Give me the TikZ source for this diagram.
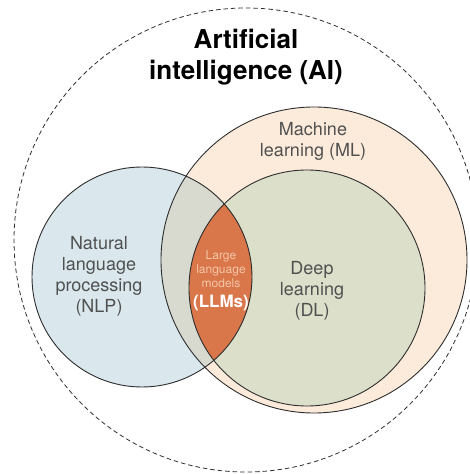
\documentclass[tikz,border=0pt]{standalone}
\usepackage{fontspec}
\setmainfont{TeX Gyre Heros}
\usepackage{xcolor}
\usetikzlibrary{positioning}

\definecolor{nlpblue}{HTML}{DAE8EE}
\definecolor{mlpeach}{HTML}{FCEBDA}
\definecolor{dlgreen}{HTML}{DCDFCA}
\definecolor{mixgrey}{HTML}{D8D9CF}
\definecolor{llmorange}{HTML}{D9764A}
\definecolor{llmtext}{HTML}{F5C6A8}
\definecolor{labelgrey}{HTML}{505050}
\definecolor{rim}{HTML}{2E2E2E}

\begin{document}
\begin{tikzpicture}[x=1pt,y=1pt,
    rimline/.style={draw=rim,line width=0.9pt},
    ailine/.style={draw=rim,line width=0.8pt,dash pattern=on 4.5pt off 3pt},
    fieldlabel/.style={align=center,text=labelgrey,font=\fontsize{18}{21}\selectfont,inner sep=0pt},
    smalllabel/.style={align=center,text=llmtext,font=\fontsize{12}{14}\selectfont,inner sep=0pt}]
  \useasboundingbox (0,0) rectangle (469,474);

  \coordinate (ai) at (246,234);
  \coordinate (ml) at (314,214);
  \coordinate (dl) at (307,186);
  \coordinate (nlp) at (142,197);

  \draw[ailine] (ai) circle[radius=232];

  \fill[mlpeach] (ml) circle[radius=153];
  \fill[dlgreen] (dl) circle[radius=118];
  \fill[nlpblue] (nlp) circle[radius=110];
  \begin{scope}
    \clip (nlp) circle[radius=110];
    \fill[mixgrey] (ml) circle[radius=153];
    \clip (dl) circle[radius=118];
    \fill[llmorange] (dl) circle[radius=118];
  \end{scope}

  \draw[rimline] (ml) circle[radius=153];
  \draw[rimline] (dl) circle[radius=118];
  \draw[rimline] (nlp) circle[radius=110];

  \node[align=center,inner sep=0pt,font=\fontsize{26}{31}\selectfont\bfseries] (aitext) at (246,417) {Artificial\\intelligence (AI)};
  \node[fieldlabel] (mltext) at (313,333) {Machine\\learning (ML)};
  \node[fieldlabel] (nlptext) at (99,198) {Natural\\language\\processing\\(NLP)};
  \node[fieldlabel] (dltext) at (312,183) {Deep\\learning\\(DL)};
  \node[smalllabel] (llmtext) at (221,205) {Large\\language\\models};
  \node[inner sep=0pt,text=white,font=\fontsize{17}{20}\selectfont\bfseries,below=7pt of llmtext] (llmabbr) {(LLMs)};
\end{tikzpicture}
\end{document}
